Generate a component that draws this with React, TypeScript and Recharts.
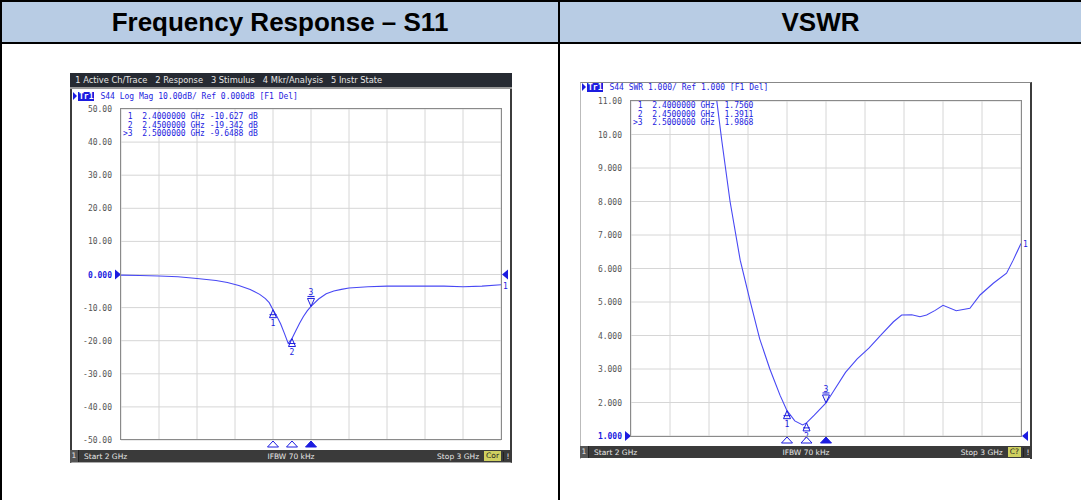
import { LineChart, Line, XAxis, YAxis, CartesianGrid, ReferenceDot, ReferenceLine } from "recharts";

// sweep 2..3 GHz, 10 divisions
const freqTicks = [2.0, 2.1, 2.2, 2.3, 2.4, 2.5, 2.6, 2.7, 2.8, 2.9, 3.0];

// S11 log mag trace (dB)
const s11Freq = [2.0, 2.05, 2.1, 2.15, 2.2, 2.25, 2.28, 2.31, 2.34, 2.365, 2.38, 2.39, 2.4, 2.41, 2.42, 2.43, 2.44, 2.45, 2.46, 2.47, 2.48, 2.49, 2.5, 2.52, 2.54, 2.56, 2.58, 2.6, 2.65, 2.7, 2.75, 2.8, 2.85, 2.9, 2.95, 3.0];
const s11Db = [-0.2, -0.3, -0.45, -0.7, -1.2, -1.8, -2.4, -3.3, -4.5, -6.0, -7.3, -8.5, -10.63, -12.6, -14.9, -17.8, -20.8, -19.34, -17.0, -14.7, -12.7, -11.0, -9.65, -7.4, -5.8, -5.0, -4.5, -4.1, -3.7, -3.5, -3.5, -3.5, -3.5, -3.7, -3.5, -3.1];
const s11Ticks = [50, 40, 30, 20, 10, 0, -10, -20, -30, -40, -50];
const s11Markers = [
  { n: "1", f: 2.4, v: -10.627 },
  { n: "2", f: 2.45, v: -19.342 },
  { n: "3", f: 2.5, v: -9.6488 },
];
const s11Readout = [" 1  2.4000000 GHz -10.627 dB", " 2  2.4500000 GHz -19.342 dB", ">3  2.5000000 GHz -9.6488 dB"];

// VSWR trace
const vswrFreq = [2.0, 2.1, 2.2, 2.22, 2.233, 2.254, 2.28, 2.305, 2.33, 2.356, 2.382, 2.4, 2.42, 2.44, 2.45, 2.47, 2.5, 2.52, 2.55, 2.58, 2.61, 2.643, 2.673, 2.694, 2.72, 2.741, 2.758, 2.78, 2.8, 2.834, 2.869, 2.895, 2.929, 2.963, 2.98, 3.0];
const vswrVal = [30, 22, 13.5, 11.0, 9.8, 8.0, 6.25, 5.05, 3.9, 3.0, 2.22, 1.756, 1.45, 1.33, 1.391, 1.62, 1.987, 2.35, 2.9, 3.3, 3.62, 4.04, 4.41, 4.61, 4.62, 4.56, 4.61, 4.75, 4.9, 4.74, 4.81, 5.21, 5.56, 5.86, 6.25, 6.75];
const vswrTicks = [11, 10, 9, 8, 7, 6, 5, 4, 3, 2, 1];
const vswrMarkers = [
  { n: "1", f: 2.4, v: 1.756 },
  { n: "2", f: 2.45, v: 1.3911 },
  { n: "3", f: 2.5, v: 1.9868 },
];
const vswrReadout = [" 1  2.4000000 GHz  1.7560", " 2  2.4500000 GHz  1.3911", ">3  2.5000000 GHz  1.9868"];

const s11Data = s11Freq.map((f, i) => ({ f, v: s11Db[i] }));
const vswrData = vswrFreq.map((f, i) => ({ f, v: vswrVal[i] }));

const BLUE = "#1c1ce0";
const TRACE = "#4848f4";
const GRID = "#d6d6d6";
const MONO = "'DejaVu Sans Mono', monospace";
const SANS = "'DejaVu Sans', sans-serif";

function onTraceMarker(label: string, active: boolean) {
  return (p: any) => {
    const { cx, cy } = p;
    if (active) {
      return (
        <g>
          <path d={`M${cx},${cy} L${cx - 3.5},${cy - 8} L${cx + 3.5},${cy - 8} Z`} fill="none" stroke={BLUE} strokeWidth={1} />
          <line x1={cx - 3.5} y1={cy - 10} x2={cx + 3.5} y2={cy - 10} stroke={BLUE} />
          <text x={cx} y={cy - 11} textAnchor="middle" fontSize={8} fontFamily={MONO} fill={BLUE}>{label}</text>
        </g>
      );
    }
    return (
      <g>
        <path d={`M${cx},${cy} L${cx - 3.5},${cy + 8} L${cx + 3.5},${cy + 8} Z`} fill="none" stroke={BLUE} strokeWidth={1} />
        <line x1={cx - 3.5} y1={cy + 5} x2={cx + 3.5} y2={cy + 5} stroke={BLUE} />
        <text x={cx} y={cy + 16} textAnchor="middle" fontSize={8} fontFamily={MONO} fill={BLUE}>{label}</text>
      </g>
    );
  };
}

function bottomMarker(active: boolean) {
  return (p: any) => {
    const { cx, cy } = p;
    return (
      <path
        d={`M${cx},${cy + 1} L${cx - 5.5},${cy + 7} L${cx + 5.5},${cy + 7} Z`}
        fill={active ? BLUE : "#ffffff"}
        stroke={BLUE}
        strokeWidth={1}
      />
    );
  };
}

function refArrow(side: "left" | "right") {
  return (p: any) => {
    const { cx, cy } = p;
    if (side === "left") {
      return <path d={`M${cx},${cy} L${cx - 6},${cy - 5} L${cx - 6},${cy + 5} Z`} fill={BLUE} />;
    }
    return <path d={`M${cx + 1},${cy} L${cx + 7},${cy - 5} L${cx + 7},${cy + 5} Z`} fill={BLUE} />;
  };
}

function endLabel(p: any) {
  const { cx, cy } = p;
  return (
    <text x={cx + 2} y={cy + 4} fontSize={8} fontFamily={MONO} fill={BLUE}>1</text>
  );
}

function makeTick(fmt: (v: number) => string, refValue: number) {
  return (p: any) => {
    const { x, y, payload } = p;
    const isRef = payload.value === refValue;
    return (
      <text
        x={x}
        y={y}
        dy={3}
        textAnchor="end"
        fontSize={8}
        fontFamily={MONO}
        fontWeight={isRef ? "bold" : "normal"}
        fill={isRef ? BLUE : "#555"}
      >
        {fmt(payload.value)}
      </text>
    );
  };
}

const s11Fmt = (v: number) => (v === 0 ? "0.000" : v.toFixed(2));
const vswrFmt = (v: number) => (v >= 10 ? v.toFixed(2) : v.toFixed(3));

type PlotProps = {
  data: { f: number; v: number }[];
  ticks: number[];
  domain: [number, number];
  fmt: (v: number) => string;
  refValue: number;
  markers: { n: string; f: number; v: number }[];
  width: number;
  height: number;
  bottom: number;
};

function Plot({ data, ticks, domain, fmt, refValue, markers, width, height, bottom }: PlotProps) {
  const last = data[data.length - 1];
  return (
    <LineChart width={width} height={height} data={data} margin={{ top: 9, right: 9, bottom, left: 0 }}>
      <CartesianGrid stroke={GRID} strokeWidth={1} vertical={false} />
      <XAxis
        dataKey="f"
        type="number"
        domain={[2, 3]}
        ticks={freqTicks}
        tick={false}
        axisLine={false}
        tickLine={false}
        height={0}
        allowDataOverflow
      />
      <YAxis
        type="number"
        domain={domain}
        ticks={ticks}
        interval={0}
        width={51}
        tickSize={0}
        tickMargin={9}
        axisLine={false}
        tickLine={false}
        tick={makeTick(fmt, refValue)}
        allowDataOverflow
      />
      {freqTicks.map((f) => (
        <ReferenceLine key={"g" + f} x={f} stroke={GRID} strokeWidth={1} />
      ))}
      <Line dataKey="v" type="linear" stroke={TRACE} strokeWidth={1.1} dot={false} isAnimationActive={false} />
      {markers.map((m, i) => (
        <ReferenceDot key={"m" + m.n} x={m.f} y={m.v} ifOverflow="visible" shape={onTraceMarker(m.n, i === markers.length - 1)} />
      ))}
      {markers.map((m, i) => (
        <ReferenceDot key={"b" + m.n} x={m.f} y={domain[0]} ifOverflow="visible" shape={bottomMarker(i === markers.length - 1)} />
      ))}
      <ReferenceDot x={2} y={refValue} ifOverflow="visible" shape={refArrow("left")} />
      <ReferenceDot x={3} y={refValue} ifOverflow="visible" shape={refArrow("right")} />
      <ReferenceDot x={last.f} y={last.v} ifOverflow="visible" shape={endLabel} />
    </LineChart>
  );
}

function TraceLabel({ text, left, top }: { text: string; left: number; top: number }) {
  return (
    <div style={{ position: "absolute", left, top, display: "flex", alignItems: "center", height: 10, fontFamily: MONO, fontSize: 8, color: BLUE, whiteSpace: "pre" }}>
      <svg width={4} height={8} style={{ marginRight: 1 }}>
        <path d="M0,0 L4,4 L0,8 Z" fill={BLUE} />
      </svg>
      <span style={{ background: BLUE, color: "#fff", fontWeight: "bold", padding: "0 1px", lineHeight: "9px", height: 9 }}>Tr1</span>
      <span style={{ marginLeft: 6 }}>{text}</span>
    </div>
  );
}

function Readout({ lines, left, top }: { lines: string[]; left: number; top: number }) {
  return (
    <div style={{ position: "absolute", left, top, fontFamily: MONO, fontSize: 8, lineHeight: "8.5px", color: BLUE, whiteSpace: "pre" }}>
      {lines.map((l) => (
        <div key={l}>{l}</div>
      ))}
    </div>
  );
}

function StatusBar({ left, top, width, corr }: { left: number; top: number; width: number; corr: string }) {
  return (
    <div style={{ position: "absolute", left, top, width, height: 12, background: "#3a3a3a", fontFamily: SANS, fontSize: 7.5, color: "#e8e8e8", display: "flex", alignItems: "center" }}>
      <span style={{ background: "#555", width: 8, textAlign: "center", borderRight: "1px solid #222", lineHeight: "12px" }}>1</span>
      <span style={{ marginLeft: 5 }}>Start 2 GHz</span>
      <span style={{ position: "absolute", left: 0, right: 0, textAlign: "center", pointerEvents: "none" }}>IFBW 70 kHz</span>
      <span style={{ marginLeft: "auto", marginRight: 5 }}>Stop 3 GHz</span>
      <span style={{ background: "#cfd060", color: "#222", padding: "0 2px", lineHeight: "10px" }}>{corr}</span>
      <span style={{ width: 8, textAlign: "center", borderLeft: "1px solid #222", marginLeft: 2 }}>!</span>
    </div>
  );
}

const titleStyle = {
  position: "absolute" as const,
  top: 2,
  height: 40,
  display: "flex",
  alignItems: "center",
  justifyContent: "center",
  fontFamily: "'Liberation Sans', Arial, sans-serif",
  fontWeight: "bold" as const,
  fontSize: 26,
};

export default function App() {
  return (
    <div style={{ position: "relative", width: 1081, height: 500, background: "#fff", overflow: "hidden" }}>
      <style>{`body{margin:0}`}</style>

      {/* table header */}
      <div style={{ position: "absolute", left: 0, top: 0, width: 1081, height: 43, background: "#b8cce4" }} />
      <div style={{ position: "absolute", left: 0, top: 0, width: 1081, height: 2, background: "#000" }} />
      <div style={{ position: "absolute", left: 0, top: 42, width: 1081, height: 2, background: "#000" }} />
      <div style={{ position: "absolute", left: 0, top: 0, width: 2, height: 500, background: "#000" }} />
      <div style={{ position: "absolute", left: 558, top: 0, width: 2, height: 500, background: "#000" }} />
      <div style={{ ...titleStyle, left: 2, width: 556 }}>Frequency Response – S11</div>
      <div style={{ ...titleStyle, left: 560, width: 521 }}>VSWR</div>

      {/* S11 instrument screen */}
      <div style={{ position: "absolute", left: 70, top: 73, width: 442, height: 390, background: "#fff", borderLeft: "2px solid #3c3c3c", borderRight: "2px solid #3c3c3c", borderBottom: "1px solid #aaa", boxSizing: "border-box" }} />
      <div style={{ position: "absolute", left: 70, top: 73, width: 442, height: 14, background: "#262a32", color: "#e6e6e6", fontFamily: SANS, fontSize: 8.3, display: "flex", alignItems: "center", whiteSpace: "pre" }}>
        {"  1 Active Ch/Trace   2 Response   3 Stimulus   4 Mkr/Analysis   5 Instr State"}
      </div>
      <div style={{ position: "absolute", left: 70, top: 87, width: 442, height: 2, background: "#9a9a9a" }} />
      <TraceLabel text="S44 Log Mag 10.00dB/ Ref 0.000dB [F1 Del]" left={73} top={91} />
      <div style={{ position: "absolute", left: 70, top: 100 }}>
        <Plot data={s11Data} ticks={s11Ticks} domain={[-50, 50]} fmt={s11Fmt} refValue={0} markers={s11Markers} width={440} height={350} bottom={10} />
      </div>
      <div style={{ position: "absolute", left: 120, top: 108, width: 382, height: 332, border: "1px solid #8a8a8a", boxSizing: "border-box", pointerEvents: "none" }} />
      <Readout lines={s11Readout} left={123} top={113} />
      <StatusBar left={70} top={450} width={442} corr="Cor" />

      {/* VSWR instrument screen */}
      <div style={{ position: "absolute", left: 580, top: 82, width: 452, height: 377, background: "#fff", borderTop: "1px solid #888", borderLeft: "1px solid #bbb", borderRight: "2px solid #3c3c3c", boxSizing: "border-box" }} />
      <TraceLabel text="S44 SWR 1.000/ Ref 1.000 [F1 Del]" left={582} top={82} />
      <div style={{ position: "absolute", left: 580, top: 92 }}>
        <Plot data={vswrData} ticks={vswrTicks} domain={[1, 11]} fmt={vswrFmt} refValue={1} markers={vswrMarkers} width={450} height={355} bottom={11} />
      </div>
      <div style={{ position: "absolute", left: 630, top: 100, width: 392, height: 337, border: "1px solid #8a8a8a", boxSizing: "border-box", pointerEvents: "none" }} />
      <Readout lines={vswrReadout} left={633} top={102} />
      <StatusBar left={580} top={446} width={452} corr="C?" />
    </div>
  );
}
